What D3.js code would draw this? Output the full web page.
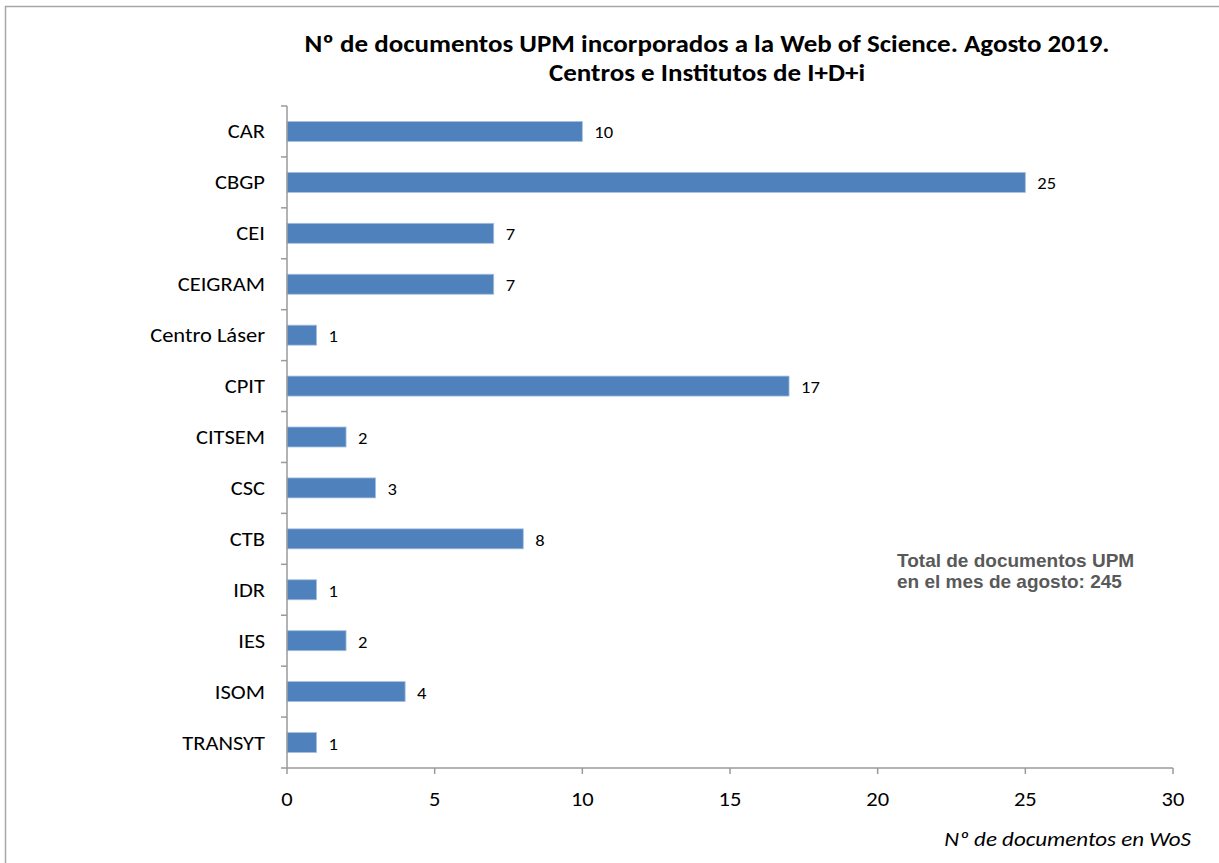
<!DOCTYPE html>
<html><head><meta charset="utf-8">
<script src="https://cdn.jsdelivr.net/npm/d3@7/dist/d3.min.js"></script>
<style>body{margin:0;background:#fff}</style>
</head><body>
<script>
const categories = ["CAR","CBGP","CEI","CEIGRAM","Centro Láser","CPIT","CITSEM","CSC","CTB","IDR","IES","ISOM","TRANSYT"];
const values = [10,25,7,7,1,17,2,3,8,1,2,4,1];
const xTicks = [0,5,10,15,20,25,30];
const titleLines = ["Nº de documentos UPM incorporados a la Web of Science. Agosto 2019.","Centros e Institutos de I+D+i"];
const noteLines = ["Total de documentos UPM","en el mes de agosto: 245"];
const xLabel = "Nº de documentos en WoS";

const W=1219,H=863;
const svg=d3.select("body").append("svg").attr("width",W).attr("height",H);
svg.append("rect").attr("x",5.5).attr("y",6.5).attr("width",W).attr("height",H).attr("fill","#fff").attr("stroke","#a6a6a6").attr("stroke-width",1.5);

const font="Carlito, Calibri, 'Open Sans', sans-serif";
// measure text at a width-matching size, then render at a smaller size stretched to that width (Calibri-like proportions)
function fit(sel, wideSize, finalSize){
  sel.attr("font-size",wideSize).each(function(){
    const w=this.getComputedTextLength();
    d3.select(this).attr("font-size",finalSize).attr("textLength",w).attr("lengthAdjust","spacingAndGlyphs");
  });
}
const L=287,R=1173,T=106,B=768;
const x=d3.scaleLinear().domain([0,30]).range([L,R]);
const yb=d3.scaleBand().domain(categories).range([T,B]);

svg.append("g").selectAll("rect").data(categories).join("rect")
 .attr("x",x(0)).attr("y",d=>yb(d)+yb.bandwidth()/2-10)
 .attr("width",(d,i)=>x(values[i])-x(0)).attr("height",20)
 .attr("fill","#4f81bd").attr("stroke","#a7c0de").attr("stroke-width",0.8);

const vl=svg.append("g").selectAll("text").data(categories).join("text")
 .attr("x",(d,i)=>x(values[i])+12).attr("y",d=>yb(d)+yb.bandwidth()/2+7)
 .attr("font-family",font).attr("fill","#000")
 .text((d,i)=>values[i]);
fit(vl,18.5,17);

const ax="#9a9a9a";
svg.append("line").attr("x1",L).attr("x2",L).attr("y1",T).attr("y2",B).attr("stroke",ax).attr("stroke-width",1.5);
svg.append("line").attr("x1",L-6).attr("x2",R).attr("y1",B).attr("y2",B).attr("stroke",ax).attr("stroke-width",1.5);
const bounds=categories.map(c=>yb(c));
svg.append("g").selectAll("line").data(bounds).join("line")
 .attr("x1",L-6).attr("x2",L).attr("y1",d=>d).attr("y2",d=>d).attr("stroke",ax).attr("stroke-width",1.5);
svg.append("g").selectAll("line").data(xTicks).join("line")
 .attr("x1",d=>x(d)).attr("x2",d=>x(d)).attr("y1",B).attr("y2",B+6).attr("stroke",ax).attr("stroke-width",1.5);
const tl=svg.append("g").selectAll("text").data(xTicks).join("text")
 .attr("x",d=>x(d)).attr("y",B+38).attr("text-anchor","middle")
 .attr("font-family",font).text(d=>d);
fit(tl,22.5,20.5);
const cl=svg.append("g").selectAll("text").data(categories).join("text")
 .attr("x",265).attr("y",d=>yb(d)+yb.bandwidth()/2+7).attr("text-anchor","end")
 .attr("font-family",font).text(d=>d);
fit(cl,22.5,20.5);

const tt=svg.append("g").selectAll("text").data(titleLines).join("text")
 .attr("x",707).attr("y",(d,i)=>52+i*29).attr("text-anchor","middle")
 .attr("font-family",font).attr("font-weight","bold").text(d=>d);
fit(tt,27,24.5);

svg.append("g").selectAll("text").data(noteLines).join("text")
 .attr("x",897).attr("y",(d,i)=>567+i*21)
 .attr("font-family","'Liberation Sans', Arial, sans-serif").attr("font-size",19).attr("font-weight","bold").attr("fill","#595959").text(d=>d);

const xl=svg.append("text").attr("x",1191).attr("y",846).attr("text-anchor","end")
 .attr("font-family",font).attr("font-style","italic").text(xLabel);
fit(xl,23,21);
</script>
</body></html>
